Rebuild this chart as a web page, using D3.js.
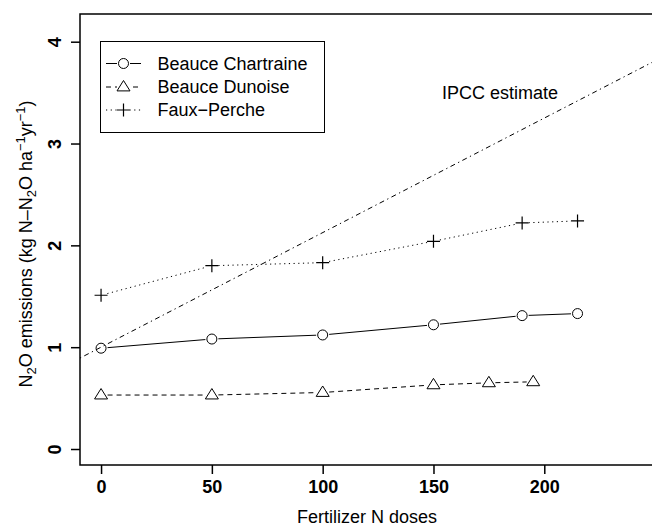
<!DOCTYPE html>
<html>
<head>
<meta charset="utf-8">
<script src="https://cdn.jsdelivr.net/npm/d3@7"></script>
<style>
  body { margin: 0; background: #fff; }
  text { font-family: "Liberation Sans", Arial, sans-serif; fill: #000; }
</style>
</head>
<body>
<div class="chart"></div>
<script>
var svgWidth = 652;
var svgHeight = 527;

// Data
var chartraineDoses = [0, 50, 100, 150, 190, 215];
var chartraineN2O = [0.99, 1.08, 1.12, 1.22, 1.31, 1.33];

var dunoiseDoses = [0, 50, 100, 150, 175, 195];
var dunoiseN2O = [0.53, 0.53, 0.555, 0.63, 0.65, 0.66];

var percheDoses = [0, 50, 100, 150, 190, 215];
var percheN2O = [1.51, 1.80, 1.83, 2.04, 2.22, 2.24];

// IPCC line: background + emission factor
var ipccIntercept = 1;
var ipccSlope = 0.01125;

var xTicks = [0, 50, 100, 150, 200];
var yTicks = [0, 1, 2, 3, 4];
var seriesNames = ["Beauce Chartraine", "Beauce Dunoise", "Faux\u2212Perche"];

var margin = { top: 14, left: 80, bottom: 62 };
var plotBottom = svgHeight - margin.bottom;

var svg = d3.select(".chart")
  .append("svg")
  .attr("width", svgWidth)
  .attr("height", svgHeight);

// Step 1: scales
// ==============================
var xScale = d3.scaleLinear()
  .domain([-9.5, 248.6])
  .range([margin.left, svgWidth]);

var yScale = d3.scaleLinear()
  .domain([-0.157, 4.272])
  .range([plotBottom, margin.top]);

var series = [
  { name: seriesNames[0], x: chartraineDoses, y: chartraineN2O, dash: null, shape: "circle" },
  { name: seriesNames[1], x: dunoiseDoses, y: dunoiseN2O, dash: "5,4", shape: "triangle" },
  { name: seriesNames[2], x: percheDoses, y: percheN2O, dash: "1.2,3.5", shape: "plus" }
];

// Step 2: axes
// ==============================
var bottomAxis = d3.axisBottom(xScale).tickValues(xTicks).tickSize(9).tickPadding(6);
var leftAxis = d3.axisLeft(yScale).tickValues(yTicks).tickFormat(d3.format("d")).tickSize(9).tickPadding(0);

var xAxisG = svg.append("g")
  .attr("transform", `translate(0, ${plotBottom})`)
  .call(bottomAxis);
xAxisG.select(".domain").remove();
xAxisG.selectAll("line").attr("stroke-width", 1.5);
xAxisG.selectAll("text")
  .attr("font-size", 18)
  .attr("font-weight", "bold")
  .attr("font-family", "Liberation Sans, Arial, sans-serif");

var yAxisG = svg.append("g")
  .attr("transform", `translate(${margin.left}, 0)`)
  .call(leftAxis);
yAxisG.select(".domain").remove();
yAxisG.selectAll("line").attr("stroke-width", 1.5);
yAxisG.selectAll("text")
  .attr("font-size", 18)
  .attr("font-weight", "bold")
  .attr("font-family", "Liberation Sans, Arial, sans-serif")
  .attr("text-anchor", "middle")
  .attr("x", 0)
  .attr("dy", null)
  .attr("transform", "translate(-25, 0) rotate(-90)")
  .attr("dominant-baseline", "central");

// plot frame (right side lies outside the window)
svg.append("rect")
  .attr("x", margin.left)
  .attr("y", margin.top)
  .attr("width", svgWidth + 10 - margin.left)
  .attr("height", plotBottom - margin.top)
  .attr("fill", "none")
  .attr("stroke", "#000")
  .attr("stroke-width", 1.5);

svg.append("clipPath").attr("id", "plotClip")
  .append("rect")
  .attr("x", margin.left)
  .attr("y", margin.top)
  .attr("width", svgWidth - margin.left)
  .attr("height", plotBottom - margin.top);

// Step 3: IPCC estimate line
// ==============================
var ipccX = xScale.domain();
svg.append("line")
  .attr("clip-path", "url(#plotClip)")
  .attr("x1", xScale(ipccX[0]))
  .attr("y1", yScale(ipccIntercept + ipccSlope * ipccX[0]))
  .attr("x2", xScale(ipccX[1]))
  .attr("y2", yScale(ipccIntercept + ipccSlope * ipccX[1]))
  .attr("stroke", "#000")
  .attr("stroke-width", 1)
  .attr("stroke-dasharray", "1.3,3.5,5,3.5");

svg.append("text")
  .attr("x", 500)
  .attr("y", 99)
  .attr("text-anchor", "middle")
  .attr("font-size", 18)
  .text("IPCC estimate");

// Step 4: markers
// ==============================
function drawShape(g, shape, cx, cy) {
  if (shape === "circle") {
    g.append("circle")
      .attr("cx", cx).attr("cy", cy).attr("r", 5)
      .attr("fill", "none").attr("stroke", "#000").attr("stroke-width", 1);
  } else if (shape === "triangle") {
    var s = 6.5;
    g.append("path")
      .attr("d", `M${cx},${cy - s} L${cx + s * 1.0},${cy + s * 0.6} L${cx - s * 1.0},${cy + s * 0.6} Z`)
      .attr("fill", "none").attr("stroke", "#000").attr("stroke-width", 1);
  } else {
    var p = 6.5;
    g.append("path")
      .attr("d", `M${cx - p},${cy} H${cx + p} M${cx},${cy - p} V${cy + p}`)
      .attr("fill", "none").attr("stroke", "#000").attr("stroke-width", 1.2);
  }
}

// Step 5: series lines (type "b": gaps around the points)
// ==============================
var gap = 6.5;
series.forEach(function(s) {
  var g = svg.append("g");
  var pts = s.x.map((d, i) => [xScale(d), yScale(s.y[i])]);
  for (var i = 0; i < pts.length - 1; i++) {
    var a = pts[i], b = pts[i + 1];
    var dx = b[0] - a[0], dy = b[1] - a[1];
    var len = Math.sqrt(dx * dx + dy * dy);
    var ux = dx / len, uy = dy / len;
    g.append("line")
      .attr("x1", a[0] + ux * gap).attr("y1", a[1] + uy * gap)
      .attr("x2", b[0] - ux * gap).attr("y2", b[1] - uy * gap)
      .attr("stroke", "#000")
      .attr("stroke-width", 1)
      .attr("stroke-dasharray", s.dash);
  }
  pts.forEach(p => drawShape(g, s.shape, p[0], p[1]));
});

// Step 6: legend
// ==============================
var legend = svg.append("g");
legend.append("rect")
  .attr("x", 100.5).attr("y", 41.5)
  .attr("width", 224).attr("height", 91)
  .attr("fill", "#fff").attr("stroke", "#000").attr("stroke-width", 1);

var rowY = [63.5, 87, 110];
series.forEach(function(s, i) {
  legend.append("line")
    .attr("x1", 106).attr("x2", 141)
    .attr("y1", rowY[i]).attr("y2", rowY[i])
    .attr("stroke", "#000").attr("stroke-width", 1)
    .attr("stroke-dasharray", s.dash);
  legend.append("rect")
    .attr("x", 117).attr("y", rowY[i] - 7)
    .attr("width", 13).attr("height", 14)
    .attr("fill", "#fff");
  drawShape(legend, s.shape, 123.5, rowY[i]);
  legend.append("text")
    .attr("x", 157.5)
    .attr("y", rowY[i])
    .attr("dy", "0.36em")
    .attr("font-size", 18)
    .text(s.name);
});

// Step 7: axis titles
// ==============================
svg.append("text")
  .attr("x", 367)
  .attr("y", 523)
  .attr("text-anchor", "middle")
  .attr("font-size", 18)
  .text("Fertilizer N doses");

var yTitle = svg.append("text")
  .attr("transform", "translate(32, 244) rotate(-90)")
  .attr("text-anchor", "middle")
  .attr("font-size", 18);
yTitle.append("tspan").text("N");
yTitle.append("tspan").attr("font-size", 13).attr("dy", 4).text("2");
yTitle.append("tspan").attr("dy", -4).text("O emissions (kg N\u2013N");
yTitle.append("tspan").attr("font-size", 13).attr("dy", 4).text("2");
yTitle.append("tspan").attr("dy", -4).text("O ha");
yTitle.append("tspan").attr("font-size", 13).attr("dy", -7).text("\u22121");
yTitle.append("tspan").attr("dy", 7).text("yr");
yTitle.append("tspan").attr("font-size", 13).attr("dy", -7).text("\u22121");
yTitle.append("tspan").attr("dy", 7).text(")");
</script>
</body>
</html>
